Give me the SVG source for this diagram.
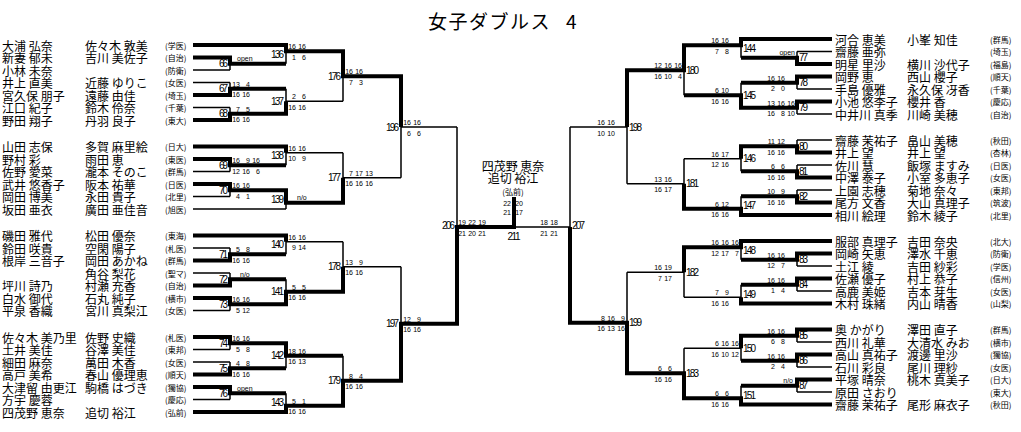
<svg xmlns="http://www.w3.org/2000/svg" width="1021" height="432" viewBox="0 0 1021 432">
<style>
text{fill:#000}
.n{font-family:"Noto Sans CJK JP","Noto Sans CJK SC",sans-serif;font-size:12px;dominant-baseline:central}
.a{font-family:"Noto Sans CJK JP","Noto Sans CJK SC",sans-serif;font-size:8px;dominant-baseline:central}
.s{font-family:"Liberation Sans",Arial,sans-serif;font-size:7px;text-anchor:end;dominant-baseline:central}
.o{font-family:"Liberation Sans",Arial,sans-serif;font-size:7px;dominant-baseline:central}
.m{font-family:"Liberation Sans",Arial,sans-serif;font-size:10px;dominant-baseline:central}
.r{text-anchor:end}
.c{text-anchor:middle}
.th{fill:none;stroke:#000;stroke-width:1.5}
.tk{fill:none;stroke:#000;stroke-width:4;stroke-linejoin:miter}
</style>
<rect width="1021" height="432" fill="#fff"/>
<text id="title" class="n" style="font-size:19px;letter-spacing:1.5px" x="428" y="20">女子ダブルス<tspan x="566">4</tspan></text>

<g id="connectors">
<path class="th" d="M193 57.5H230M193 70H230M193 82.5H230M193 95H230M193 107.5H230M193 120H230M193 159H230M193 171.5H230M193 184H230M193 196.5H230M193 248H230M193 260.5H230M193 273H230M193 285.5H230M193 298H230M193 310.5H230M193 337H230M193 349.5H230M193 362H230M193 374.5H230M193 387H230M193 399.5H230
M193 45H286M193 146.5H286M193 209H286M193 235.5H286M193 412H286
M230 57.5V70M230 82.5V95M230 107.5V120M230 159V171.5M230 184V196.5M230 248V260.5M230 273V285.5M230 298V310.5M230 337V349.5M230 362V374.5M230 387V399.5
M230 63.75H286M230 88.75H286M230 113.75H286M230 165.25H286M230 190.25H286M230 254.25H286M230 279.25H286M230 304.25H286M230 343.25H286M230 368.25H286M230 393.25H286
M286 45V63.75M286 88.75V113.75M286 146.5V165.25M286 190.25V209M286 235.5V254.25M286 279.25V304.25M286 343.25V368.25M286 393.25V412
M286 51.25H343M286 101.25H343M286 152.75H343M286 202.75H343M286 241.75H343M286 291.75H343M286 355.75H343M286 405.75H343
M343 51.25V101.25M343 152.75V202.75M343 241.75V291.75M343 355.75V405.75
M343 76.25H401M343 177.75H401M343 266.75H401M343 380.75H401
M401 76.25V177.75M401 266.75V380.75
M401 127H457M401 323.75H457
M457 127V323.75
M457 227H570M514 227V197
M832 51.5H797M832 64H797M832 76.5H797M832 89H797M832 101.5H797M832 114H797M832 140H797M832 152.5H797M832 165H797M832 177.5H797M832 190H797M832 202.5H797M832 253.5H797M832 266H797M832 278.5H797M832 291H797M832 329.5H797M832 342H797M832 354.5H797M832 367H797M832 379.5H797M832 392H797
M832 39H741M832 215H741M832 241H741M832 303.5H741M832 404.5H741
M797 51.5V64M797 76.5V89M797 101.5V114M797 140V152.5M797 165V177.5M797 190V202.5M797 253.5V266M797 278.5V291M797 329.5V342M797 354.5V367M797 379.5V392
M797 57.75H741M797 82.75H741M797 107.75H741M797 146.25H741M797 171.25H741M797 196.25H741M797 259.75H741M797 284.75H741M797 335.75H741M797 360.75H741M797 385.75H741
M741 39V57.75M741 82.75V107.75M741 146.25V171.25M741 196.25V215M741 241V259.75M741 284.75V303.5M741 335.75V360.75M741 385.75V404.5
M741 45.25H684M741 95.25H684M741 158.75H684M741 208.75H684M741 247.25H684M741 297.25H684M741 348.25H684M741 398.25H684
M684 45.25V95.25M684 158.75V208.75M684 247.25V297.25M684 348.25V398.25
M684 70.25H627M684 183.75H627M684 272.25H627M684 373.25H627
M627 70.25V183.75M627 272.25V373.25
M627 127H570M627 322.75H570
M570 127V322.75"/>
<path class="tk" d="M193 45H286V51.25H343V76.25H401V127
M193 57.5H230V63.75H286
M193 95H230V88.75H286
M193 120H230V113.75H286V101.25
M193 146.5H286V152.75
M193 159H230V165.25H286
M193 184H230V190.25H286V202.75H343V177.75
M193 260.5H230V254.25H286
M193 235.5H286V241.75
M193 285.5H230V279.25H286
M193 298H230V304.25H286V291.75H343V266.75
M193 337H230V343.25H286V355.75H343
M193 374.5H230V368.25H286
M193 387H230V393.25H286
M193 412H286V405.75H343V380.75H401V323.75H457V227H514V197
M832 39H741V45.25H684V70.25H627V127
M832 64H797V57.75H741
M832 76.5H797V82.75H741
M832 101.5H797V107.75H741V95.25H684
M832 152.5H797V146.25H741V158.75
M832 177.5H797V171.25H741
M832 202.5H797V196.25H741
M832 215H741V208.75H684V183.75
M832 241H741V247.25H684V272.25
M832 253.5H797V259.75H741
M832 278.5H797V284.75H741
M832 303.5H741V297.25
M832 329.5H797V335.75H741V348.25
M832 354.5H797V360.75H741
M832 379.5H797V385.75H741
M832 404.5H741V398.25H684V373.25H627V322.75H570V227"/>
</g>

<g id="entries-left">
<g id="L01"><text class="n" x="2" y="45">大浦 弘奈</text><text class="n" x="85" y="45">佐々木 敦美</text><text class="a" x="165" y="45">(学医)</text></g>
<g id="L02"><text class="n" x="2" y="57.5">新妻 郁未</text><text class="n" x="85" y="57.5">吉川 美佐子</text><text class="a" x="165" y="57.5">(自治)</text></g>
<g id="L03"><text class="n" x="2" y="70">小林 未奈</text><text class="a" x="165" y="70">(防衛)</text></g>
<g id="L04"><text class="n" x="2" y="82.5">井上 直美</text><text class="n" x="85" y="82.5">近藤 ゆりこ</text><text class="a" x="165" y="82.5">(女医)</text></g>
<g id="L05"><text class="n" x="2" y="95">宮久保 朋子</text><text class="n" x="85" y="95">遠藤 由佳</text><text class="a" x="165" y="95">(埼玉)</text></g>
<g id="L06"><text class="n" x="2" y="107.5">江口 紀子</text><text class="n" x="85" y="107.5">鈴木 伶奈</text><text class="a" x="165" y="107.5">(千葉)</text></g>
<g id="L07"><text class="n" x="2" y="120">野田 翔子</text><text class="n" x="85" y="120">丹羽 良子</text><text class="a" x="165" y="120">(東大)</text></g>
<g id="L08"><text class="n" x="2" y="146.5">山田 志保</text><text class="n" x="85" y="146.5">多賀 麻里絵</text><text class="a" x="165" y="146.5">(日大)</text></g>
<g id="L09"><text class="n" x="2" y="159">野村 彩</text><text class="n" x="85" y="159">雨田 恵</text><text class="a" x="165" y="159">(東医)</text></g>
<g id="L10"><text class="n" x="2" y="171.5">佐野 愛菜</text><text class="n" x="85" y="171.5">瀧本 そのこ</text><text class="a" x="165" y="171.5">(群馬)</text></g>
<g id="L11"><text class="n" x="2" y="184">武井 悠香子</text><text class="n" x="85" y="184">阪本 祐華</text><text class="a" x="165" y="184">(日医)</text></g>
<g id="L12"><text class="n" x="2" y="196.5">岡田 博美</text><text class="n" x="85" y="196.5">永田 貴子</text><text class="a" x="165" y="196.5">(北里)</text></g>
<g id="L13"><text class="n" x="2" y="209">坂田 亜衣</text><text class="n" x="85" y="209">廣田 亜佳音</text><text class="a" x="165" y="209">(旭医)</text></g>
<g id="L14"><text class="n" x="2" y="235.5">磯田 雅代</text><text class="n" x="85" y="235.5">松田 優奈</text><text class="a" x="165" y="235.5">(東海)</text></g>
<g id="L15"><text class="n" x="2" y="248">鈴田 咲貴</text><text class="n" x="85" y="248">空閑 陽子</text><text class="a" x="165" y="248">(札医)</text></g>
<g id="L16"><text class="n" x="2" y="260.5">根岸 三音子</text><text class="n" x="85" y="260.5">岡田 あかね</text><text class="a" x="165" y="260.5">(群馬)</text></g>
<g id="L17"><text class="n" x="85" y="273">角谷 梨花</text><text class="a" x="165" y="273">(聖マ)</text></g>
<g id="L18"><text class="n" x="2" y="285.5">坪川 詩乃</text><text class="n" x="85" y="285.5">村瀬 充香</text><text class="a" x="165" y="285.5">(自治)</text></g>
<g id="L19"><text class="n" x="2" y="298">白水 御代</text><text class="n" x="85" y="298">石丸 純子</text><text class="a" x="165" y="298">(横市)</text></g>
<g id="L20"><text class="n" x="2" y="310.5">平泉 香織</text><text class="n" x="85" y="310.5">宮川 真梨江</text><text class="a" x="165" y="310.5">(女医)</text></g>
<g id="L21"><text class="n" x="2" y="337">佐々木 美乃里</text><text class="n" x="85" y="337">佐野 史織</text><text class="a" x="165" y="337">(札医)</text></g>
<g id="L22"><text class="n" x="2" y="349.5">土井 美佳</text><text class="n" x="85" y="349.5">谷澤 美佳</text><text class="a" x="165" y="349.5">(東邦)</text></g>
<g id="L23"><text class="n" x="2" y="362">細田 麻奈</text><text class="n" x="85" y="362">萬田 木香</text><text class="a" x="165" y="362">(女医)</text></g>
<g id="L24"><text class="n" x="2" y="374.5">高戸 美希</text><text class="n" x="85" y="374.5">春山 優理恵</text><text class="a" x="165" y="374.5">(順天)</text></g>
<g id="L25"><text class="n" x="2" y="387">大津留 由更江</text><text class="n" x="85" y="387">駒橋 はづき</text><text class="a" x="165" y="387">(獨協)</text></g>
<g id="L26"><text class="n" x="2" y="399.5">方宇 慶蓉</text><text class="a" x="165" y="399.5">(慶応)</text></g>
<g id="L27"><text class="n" x="2" y="412">四茂野 恵奈</text><text class="n" x="85" y="412">追切 裕江</text><text class="a" x="165" y="412">(弘前)</text></g>
</g>

<g id="entries-right">
<g id="R01"><text class="n" x="835" y="39">河合 恵美</text><text class="n" x="907" y="39">小峯 知佳</text><text class="a" x="990" y="39">(群馬)</text></g>
<g id="R02"><text class="n" x="835" y="51.5">齋藤 亜弥</text><text class="a" x="990" y="51.5">(埼玉)</text></g>
<g id="R03"><text class="n" x="835" y="64">明星 里沙</text><text class="n" x="907" y="64">横川 沙代子</text><text class="a" x="990" y="64">(福島)</text></g>
<g id="R04"><text class="n" x="835" y="76.5">岡野 恵</text><text class="n" x="907" y="76.5">西山 櫻子</text><text class="a" x="990" y="76.5">(順天)</text></g>
<g id="R05"><text class="n" x="835" y="89">手島 優雅</text><text class="n" x="907" y="89">永久保 冴香</text><text class="a" x="990" y="89">(千葉)</text></g>
<g id="R06"><text class="n" x="835" y="101.5">小池 悠李子</text><text class="n" x="907" y="101.5">櫻井 香</text><text class="a" x="990" y="101.5">(慶応)</text></g>
<g id="R07"><text class="n" x="835" y="114">中井川 真季</text><text class="n" x="907" y="114">川崎 美穂</text><text class="a" x="990" y="114">(自治)</text></g>
<g id="R08"><text class="n" x="835" y="140">齋藤 茉祐子</text><text class="n" x="907" y="140">畠山 美穂</text><text class="a" x="990" y="140">(秋田)</text></g>
<g id="R09"><text class="n" x="835" y="152.5">井上 望</text><text class="n" x="907" y="152.5">井上 望</text><text class="a" x="990" y="152.5">(杏林)</text></g>
<g id="R10"><text class="n" x="835" y="165">佐川 慧</text><text class="n" x="907" y="165">飯塚 ますみ</text><text class="a" x="990" y="165">(日医)</text></g>
<g id="R11"><text class="n" x="835" y="177.5">中澤 泰子</text><text class="n" x="907" y="177.5">小室 多恵子</text><text class="a" x="990" y="177.5">(女医)</text></g>
<g id="R12"><text class="n" x="835" y="190">上園 志穂</text><text class="n" x="907" y="190">菊地 奈々</text><text class="a" x="990" y="190">(東邦)</text></g>
<g id="R13"><text class="n" x="835" y="202.5">尾方 文香</text><text class="n" x="907" y="202.5">大山 真理子</text><text class="a" x="990" y="202.5">(筑波)</text></g>
<g id="R14"><text class="n" x="835" y="215">相川 絵理</text><text class="n" x="907" y="215">鈴木 綾子</text><text class="a" x="990" y="215">(北里)</text></g>
<g id="R15"><text class="n" x="835" y="241">服部 真理子</text><text class="n" x="907" y="241">吉田 奈央</text><text class="a" x="990" y="241">(北大)</text></g>
<g id="R16"><text class="n" x="835" y="253.5">岡崎 矢恵</text><text class="n" x="907" y="253.5">澤水 千恵</text><text class="a" x="990" y="253.5">(防衛)</text></g>
<g id="R17"><text class="n" x="835" y="266">土江 綾</text><text class="n" x="907" y="266">吉田 紗彩</text><text class="a" x="990" y="266">(学医)</text></g>
<g id="R18"><text class="n" x="835" y="278.5">佐瀬 優子</text><text class="n" x="907" y="278.5">村上 恭子</text><text class="a" x="990" y="278.5">(信州)</text></g>
<g id="R19"><text class="n" x="835" y="291">高鹿 美姫</text><text class="n" x="907" y="291">吉本 芽生</text><text class="a" x="990" y="291">(女医)</text></g>
<g id="R20"><text class="n" x="835" y="303.5">木村 珠緒</text><text class="n" x="907" y="303.5">内山 晴香</text><text class="a" x="990" y="303.5">(山梨)</text></g>
<g id="R21"><text class="n" x="835" y="329.5">奥 かがり</text><text class="n" x="907" y="329.5">澤田 直子</text><text class="a" x="990" y="329.5">(群馬)</text></g>
<g id="R22"><text class="n" x="835" y="342">西川 礼華</text><text class="n" x="907" y="342">大清水 みお</text><text class="a" x="990" y="342">(横市)</text></g>
<g id="R23"><text class="n" x="835" y="354.5">高山 真祐子</text><text class="n" x="907" y="354.5">渡邊 里沙</text><text class="a" x="990" y="354.5">(獨協)</text></g>
<g id="R24"><text class="n" x="835" y="367">石川 彩良</text><text class="n" x="907" y="367">尾川 理紗</text><text class="a" x="990" y="367">(女医)</text></g>
<g id="R25"><text class="n" x="835" y="379.5">平塚 晴奈</text><text class="n" x="907" y="379.5">桃木 真美子</text><text class="a" x="990" y="379.5">(日大)</text></g>
<g id="R26"><text class="n" x="835" y="392">原田 さおり</text><text class="a" x="990" y="392">(東大)</text></g>
<g id="R27"><text class="n" x="835" y="404.5">齋藤 茉祐子</text><text class="n" x="907" y="404.5">尾形 麻衣子</text><text class="a" x="990" y="404.5">(秋田)</text></g>
</g>

<g id="champion">
<text class="n c" x="513" y="165">四茂野 恵奈</text>
<text class="n c" x="513" y="177">追切 裕江</text>
<text class="a c" x="513" y="191">(弘前)</text>
</g>

<g id="matches-left">
<g id="m66"><text class="m r" x="228" y="63.75" textLength="9">66</text><text class="o" x="237" y="58.75">open</text></g>
<g id="m67"><text class="m r" x="228" y="88.75" textLength="9">67</text><text class="s" y="83.75"><tspan x="240">13</tspan><tspan x="250">4</tspan></text><text class="s" y="94.25"><tspan x="240">16</tspan><tspan x="250">16</tspan></text></g>
<g id="m68"><text class="m r" x="228" y="113.75" textLength="9">68</text><text class="s" y="108.75"><tspan x="240">7</tspan><tspan x="250">5</tspan></text><text class="s" y="119.25"><tspan x="240">16</tspan><tspan x="250">16</tspan></text></g>
<g id="m69"><text class="m r" x="228" y="165.25" textLength="9">69</text><text class="s" y="160.25"><tspan x="240">16</tspan><tspan x="250">9</tspan><tspan x="260">16</tspan></text><text class="s" y="170.75"><tspan x="240">12</tspan><tspan x="250">16</tspan><tspan x="260">6</tspan></text></g>
<g id="m70"><text class="m r" x="228" y="190.25" textLength="9">70</text><text class="s" y="185.25"><tspan x="240">16</tspan><tspan x="250">16</tspan></text><text class="s" y="195.75"><tspan x="240">4</tspan><tspan x="250">1</tspan></text></g>
<g id="m71"><text class="m r" x="228" y="254.25" textLength="9">71</text><text class="s" y="249.25"><tspan x="240">5</tspan><tspan x="250">8</tspan></text><text class="s" y="259.75"><tspan x="240">16</tspan><tspan x="250">16</tspan></text></g>
<g id="m72"><text class="m r" x="228" y="279.25" textLength="9">72</text><text class="o" x="240" y="274.25">n/o</text></g>
<g id="m73"><text class="m r" x="228" y="304.25" textLength="9">73</text><text class="s" y="299.25"><tspan x="240">16</tspan><tspan x="250">16</tspan></text><text class="s" y="309.75"><tspan x="240">5</tspan><tspan x="250">12</tspan></text></g>
<g id="m74"><text class="m r" x="228" y="343.25" textLength="9">74</text><text class="s" y="338.25"><tspan x="240">16</tspan><tspan x="250">16</tspan></text><text class="s" y="348.75"><tspan x="240">5</tspan><tspan x="250">8</tspan></text></g>
<g id="m75"><text class="m r" x="228" y="368.25" textLength="9">75</text><text class="s" y="363.25"><tspan x="240">4</tspan><tspan x="250">8</tspan></text><text class="s" y="373.75"><tspan x="240">16</tspan><tspan x="250">16</tspan></text></g>
<g id="m76"><text class="m r" x="228" y="393.25" textLength="9">76</text><text class="o" x="237" y="388.25">open</text></g>
<g id="m136"><text class="m r" x="284" y="54.4" textLength="13">136</text><text class="s" y="46.25"><tspan x="296">16</tspan><tspan x="306">16</tspan></text><text class="s" y="56.75"><tspan x="296">1</tspan><tspan x="306">6</tspan></text></g>
<g id="m137"><text class="m r" x="284" y="101.25" textLength="13">137</text><text class="s" y="96.25"><tspan x="296">2</tspan><tspan x="306">6</tspan></text><text class="s" y="106.75"><tspan x="296">16</tspan><tspan x="306">16</tspan></text></g>
<g id="m138"><text class="m r" x="284" y="155.9" textLength="13">138</text><text class="s" y="147.75"><tspan x="296">16</tspan><tspan x="306">16</tspan></text><text class="s" y="158.25"><tspan x="296">10</tspan><tspan x="306">9</tspan></text></g>
<g id="m139"><text class="m r" x="284" y="199.6" textLength="13">139</text><text class="o" x="297" y="197.75">n/o</text></g>
<g id="m140"><text class="m r" x="284" y="244.9" textLength="13">140</text><text class="s" y="236.75"><tspan x="296">16</tspan><tspan x="306">16</tspan></text><text class="s" y="247.25"><tspan x="296">9</tspan><tspan x="306">14</tspan></text></g>
<g id="m141"><text class="m r" x="284" y="291.75" textLength="13">141</text><text class="s" y="286.75"><tspan x="296">5</tspan><tspan x="306">5</tspan></text><text class="s" y="297.25"><tspan x="296">16</tspan><tspan x="306">16</tspan></text></g>
<g id="m142"><text class="m r" x="284" y="355.75" textLength="13">142</text><text class="s" y="350.75"><tspan x="296">18</tspan><tspan x="306">16</tspan></text><text class="s" y="361.25"><tspan x="296">16</tspan><tspan x="306">13</tspan></text></g>
<g id="m143"><text class="m r" x="284" y="402.6" textLength="13">143</text><text class="s" y="400.75"><tspan x="296">5</tspan><tspan x="306">1</tspan></text><text class="s" y="411.25"><tspan x="296">16</tspan><tspan x="306">16</tspan></text></g>
<g id="m176"><text class="m r" x="341" y="76.25" textLength="13">176</text><text class="s" y="71.25"><tspan x="353">16</tspan><tspan x="363">16</tspan></text><text class="s" y="81.75"><tspan x="353">7</tspan><tspan x="363">3</tspan></text></g>
<g id="m177"><text class="m r" x="341" y="177.75" textLength="13">177</text><text class="s" y="172.75"><tspan x="353">7</tspan><tspan x="363">17</tspan><tspan x="373">13</tspan></text><text class="s" y="183.25"><tspan x="353">16</tspan><tspan x="363">16</tspan><tspan x="373">16</tspan></text></g>
<g id="m178"><text class="m r" x="341" y="266.75" textLength="13">178</text><text class="s" y="261.75"><tspan x="353">13</tspan><tspan x="363">9</tspan></text><text class="s" y="272.25"><tspan x="353">16</tspan><tspan x="363">16</tspan></text></g>
<g id="m179"><text class="m r" x="341" y="380.75" textLength="13">179</text><text class="s" y="375.75"><tspan x="353">8</tspan><tspan x="363">4</tspan></text><text class="s" y="386.25"><tspan x="353">16</tspan><tspan x="363">16</tspan></text></g>
<g id="m196"><text class="m r" x="399" y="127" textLength="13">196</text><text class="s" y="122"><tspan x="411">16</tspan><tspan x="421">16</tspan></text><text class="s" y="132.5"><tspan x="411">6</tspan><tspan x="421">6</tspan></text></g>
<g id="m197"><text class="m r" x="399" y="323.75" textLength="13">197</text><text class="s" y="318.75"><tspan x="411">12</tspan><tspan x="421">9</tspan></text><text class="s" y="329.25"><tspan x="411">16</tspan><tspan x="421">16</tspan></text></g>
<g id="m206"><text class="m r" x="455" y="225" textLength="13">206</text><text class="s" y="222"><tspan x="466">19</tspan><tspan x="476">22</tspan><tspan x="486">19</tspan></text><text class="s" y="232.5"><tspan x="466">21</tspan><tspan x="476">20</tspan><tspan x="486">21</tspan></text></g>
</g>

<g id="m211"><text class="m c" x="514" y="236" textLength="13">211</text><text class="s" y="203"><tspan x="511">22</tspan><tspan x="523">20</tspan></text><text class="s" y="212"><tspan x="511">21</tspan><tspan x="523">17</tspan></text></g>

<g id="matches-right">
<g id="m77"><text class="m" x="799" y="57.75" textLength="9">77</text><text class="s" x="795" y="52.75">open</text></g>
<g id="m78"><text class="m" x="799" y="82.75" textLength="9">78</text><text class="s" y="77.75"><tspan x="775">16</tspan><tspan x="785">16</tspan></text><text class="s" y="88.25"><tspan x="775">2</tspan><tspan x="785">0</tspan></text></g>
<g id="m79"><text class="m" x="799" y="107.75" textLength="9">79</text><text class="s" y="102.75"><tspan x="775">13</tspan><tspan x="785">16</tspan><tspan x="795">16</tspan></text><text class="s" y="113.25"><tspan x="775">16</tspan><tspan x="785">8</tspan><tspan x="795">10</tspan></text></g>
<g id="m80"><text class="m" x="799" y="146.25" textLength="9">80</text><text class="s" y="141.25"><tspan x="775">11</tspan><tspan x="785">12</tspan></text><text class="s" y="151.75"><tspan x="775">16</tspan><tspan x="785">16</tspan></text></g>
<g id="m81"><text class="m" x="799" y="171.25" textLength="9">81</text><text class="s" y="166.25"><tspan x="775">6</tspan><tspan x="785">6</tspan></text><text class="s" y="176.75"><tspan x="775">16</tspan><tspan x="785">16</tspan></text></g>
<g id="m82"><text class="m" x="799" y="196.25" textLength="9">82</text><text class="s" y="191.25"><tspan x="775">10</tspan><tspan x="785">9</tspan></text><text class="s" y="201.75"><tspan x="775">16</tspan><tspan x="785">16</tspan></text></g>
<g id="m83"><text class="m" x="799" y="259.75" textLength="9">83</text><text class="s" y="254.75"><tspan x="775">16</tspan><tspan x="785">16</tspan></text><text class="s" y="265.25"><tspan x="775">12</tspan><tspan x="785">7</tspan></text></g>
<g id="m84"><text class="m" x="799" y="284.75" textLength="9">84</text><text class="s" y="279.75"><tspan x="775">16</tspan><tspan x="785">16</tspan></text><text class="s" y="290.25"><tspan x="775">1</tspan><tspan x="785">4</tspan></text></g>
<g id="m85"><text class="m" x="799" y="335.75" textLength="9">85</text><text class="s" y="330.75"><tspan x="775">16</tspan><tspan x="785">16</tspan></text><text class="s" y="341.25"><tspan x="775">6</tspan><tspan x="785">8</tspan></text></g>
<g id="m86"><text class="m" x="799" y="360.75" textLength="9">86</text><text class="s" y="355.75"><tspan x="775">16</tspan><tspan x="785">16</tspan></text><text class="s" y="366.25"><tspan x="775">2</tspan><tspan x="785">4</tspan></text></g>
<g id="m87"><text class="m" x="799" y="385.75" textLength="9">87</text><text class="s" x="793" y="380.75">n/o</text></g>
<g id="m144"><text class="m" x="743" y="48.4" textLength="13">144</text><text class="s" y="40.25"><tspan x="719">16</tspan><tspan x="729">16</tspan></text><text class="s" y="50.75"><tspan x="719">7</tspan><tspan x="729">8</tspan></text></g>
<g id="m145"><text class="m" x="743" y="95.25" textLength="13">145</text><text class="s" y="90.25"><tspan x="719">6</tspan><tspan x="729">10</tspan></text><text class="s" y="100.75"><tspan x="719">16</tspan><tspan x="729">16</tspan></text></g>
<g id="m146"><text class="m" x="743" y="158.75" textLength="13">146</text><text class="s" y="153.75"><tspan x="719">16</tspan><tspan x="729">17</tspan></text><text class="s" y="164.25"><tspan x="719">12</tspan><tspan x="729">16</tspan></text></g>
<g id="m147"><text class="m" x="743" y="205.6" textLength="13">147</text><text class="s" y="203.75"><tspan x="719">6</tspan><tspan x="729">12</tspan></text><text class="s" y="214.25"><tspan x="719">16</tspan><tspan x="729">16</tspan></text></g>
<g id="m148"><text class="m" x="743" y="250.4" textLength="13">148</text><text class="s" y="242.25"><tspan x="719">16</tspan><tspan x="729">16</tspan><tspan x="739">16</tspan></text><text class="s" y="252.75"><tspan x="719">12</tspan><tspan x="729">17</tspan><tspan x="739">7</tspan></text></g>
<g id="m149"><text class="m" x="743" y="294.1" textLength="13">149</text><text class="s" y="292.25"><tspan x="719">7</tspan><tspan x="729">9</tspan></text><text class="s" y="302.75"><tspan x="719">16</tspan><tspan x="729">16</tspan></text></g>
<g id="m150"><text class="m" x="743" y="348.25" textLength="13">150</text><text class="s" y="343.25"><tspan x="719">6</tspan><tspan x="729">16</tspan><tspan x="739">16</tspan></text><text class="s" y="353.75"><tspan x="719">16</tspan><tspan x="729">10</tspan><tspan x="739">12</tspan></text></g>
<g id="m151"><text class="m" x="743" y="395.1" textLength="13">151</text><text class="s" y="393.25"><tspan x="719">6</tspan><tspan x="729">6</tspan></text><text class="s" y="403.75"><tspan x="719">16</tspan><tspan x="729">16</tspan></text></g>
<g id="m180"><text class="m" x="686" y="70.25" textLength="13">180</text><text class="s" y="65.25"><tspan x="662">12</tspan><tspan x="672">16</tspan><tspan x="682">16</tspan></text><text class="s" y="75.75"><tspan x="662">16</tspan><tspan x="672">10</tspan><tspan x="682">4</tspan></text></g>
<g id="m181"><text class="m" x="686" y="183.75" textLength="13">181</text><text class="s" y="178.75"><tspan x="662">13</tspan><tspan x="672">16</tspan></text><text class="s" y="189.25"><tspan x="662">16</tspan><tspan x="672">17</tspan></text></g>
<g id="m182"><text class="m" x="686" y="272.25" textLength="13">182</text><text class="s" y="267.25"><tspan x="662">16</tspan><tspan x="672">19</tspan></text><text class="s" y="277.75"><tspan x="662">7</tspan><tspan x="672">17</tspan></text></g>
<g id="m183"><text class="m" x="686" y="373.25" textLength="13">183</text><text class="s" y="368.25"><tspan x="662">6</tspan><tspan x="672">6</tspan></text><text class="s" y="378.75"><tspan x="662">16</tspan><tspan x="672">16</tspan></text></g>
<g id="m198"><text class="m" x="629" y="127" textLength="13">198</text><text class="s" y="122"><tspan x="605">16</tspan><tspan x="615">16</tspan></text><text class="s" y="132.5"><tspan x="605">10</tspan><tspan x="615">10</tspan></text></g>
<g id="m199"><text class="m" x="629" y="322.75" textLength="13">199</text><text class="s" y="317.75"><tspan x="605">8</tspan><tspan x="615">16</tspan><tspan x="625">9</tspan></text><text class="s" y="328.25"><tspan x="605">16</tspan><tspan x="615">13</tspan><tspan x="625">16</tspan></text></g>
<g id="m207"><text class="m" x="572" y="225" textLength="13">207</text><text class="s" y="222"><tspan x="548">18</tspan><tspan x="558">18</tspan></text><text class="s" y="232.5"><tspan x="548">21</tspan><tspan x="558">21</tspan></text></g>
</g>
</svg>
